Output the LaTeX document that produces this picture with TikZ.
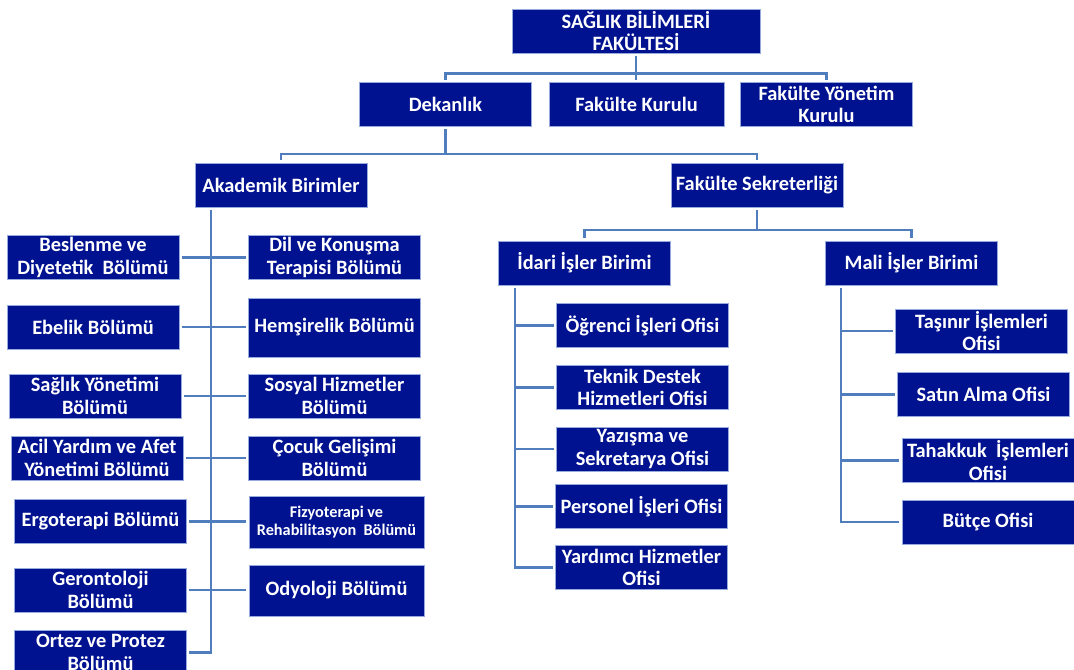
\documentclass[tikz,border=0pt]{standalone}
\usepackage{fontspec}
\setmainfont{Carlito}
\usepackage{tikz}
\definecolor{kutumavi}{RGB}{0,18,143}
\definecolor{kenar}{RGB}{150,170,220}
\definecolor{hatmavi}{RGB}{79,125,190}
\tikzset{
	kutu/.style={draw=kenar,line width=0.5pt,fill=kutumavi,text=white,align=center,inner sep=0pt,outer sep=2.2pt,minimum width=129pt,minimum height=33pt,font=\bfseries\fontsize{15.3}{17}\selectfont},
	kucukyazi/.style={font=\bfseries\fontsize{12.2}{13.5}\selectfont},
	cizgi/.style={draw=hatmavi,line width=1.6pt}
}

\begin{document}
\begin{tikzpicture}[x=0.75pt,y=-0.75pt]
	\useasboundingbox[fill=white] (0,0) rectangle (1074,670);

	\node[kutu,minimum width=186pt] (fak) at (636,31){SAĞLIK BİLİMLERİ\\FAKÜLTESİ};
	\node[kutu] (dek) at (445.5,104.5){Dekanlık};
	\node[kutu,minimum width=131pt] (fk) at (636.5,104.5){Fakülte Kurulu};
	\node[kutu] (fyk) at (826.5,104.5){Fakülte Yönetim\\Kurulu};
	\node[kutu] (akd) at (281,185){Akademik Birimler};
	\node[kutu] (sek) at (757,185){Fakülte Sekreterliği};

	\node[kutu] (bes) at (93,257.5){Beslenme ve\\Diyetetik~ Bölümü};
	\node[kutu] (ebe) at (93,327){Ebelik Bölümü};
	\node[kutu] (syo) at (95,396){Sağlık Yönetimi\\Bölümü};
	\node[kutu] (acil) at (97,458){Acil Yardım ve Afet\\Yönetimi Bölümü};
	\node[kutu] (ergo) at (100.5,521.5){Ergoterapi Bölümü};
	\node[kutu] (ger) at (100.5,590){Gerontoloji\\Bölümü};
	\node[kutu] (ort) at (100.5,652.5){Ortez ve Protez\\Bölümü};

	\node[kutu] (dil) at (334.5,257.5){Dil ve Konuşma\\Terapisi Bölümü};
	\node[kutu,minimum height=44pt] (hem) at (334.5,327.5){Hemşirelik Bölümü};
	\node[kutu] (sos) at (334.5,396){Sosyal Hizmetler\\Bölümü};
	\node[kutu] (coc) at (334.5,458){Çocuk Gelişimi\\Bölümü};
	\node[kutu,kucukyazi,minimum width=131pt,minimum height=39pt] (fiz) at (336.5,522){Fizyoterapi ve\\Rehabilitasyon~ Bölümü};
	\node[kutu,minimum width=131pt,minimum height=38pt] (ody) at (336.5,590.5){Odyoloji Bölümü};

	\node[kutu] (ida) at (584.5,263){İdari İşler Birimi};
	\node[kutu] (mal) at (911.5,263){Mali İşler Birimi};

	\node[kutu] (ogr) at (642.5,325.5){Öğrenci İşleri Ofisi};
	\node[kutu] (tek) at (642.5,387.5){Teknik Destek\\Hizmetleri Ofisi};
	\node[kutu] (yaz) at (642.5,449){Yazışma ve\\Sekretarya Ofisi};
	\node[kutu] (per) at (641.5,506.5){Personel İşleri Ofisi};
	\node[kutu] (yar) at (641.5,567.5){Yardımcı Hizmetler\\Ofisi};

	\node[kutu] (tas) at (981.5,331){Taşınır İşlemleri\\Ofisi};
	\node[kutu] (sat) at (983.5,394.5){Satın Alma Ofisi};
	\node[kutu] (tah) at (988,460.5){Tahakkuk~ İşlemleri\\Ofisi};
	\node[kutu] (but) at (988,522){Bütçe Ofisi};

	\draw[cizgi] (fak.south) -- (fak.south |- fk.north);
	\draw[cizgi] (dek.north) -- ++(0,-6) -| (fyk.north);
	\draw[cizgi] (akd.north) -- ++(0,-6) coordinate (akbar) -| (sek.north);
	\draw[cizgi] (dek.south) -- (dek.south |- akbar);
	\draw[cizgi] (ida.north) -- ++(0,-8) coordinate (sebar) -| (mal.north);
	\draw[cizgi] (sek.south) -- (sek.south |- sebar);

	\draw[cizgi] (akd.south west) ++(19,0) coordinate (akgov) |- (ort.east);
	\foreach \a/\b in {bes/dil,ebe/hem,syo/sos,acil/coc,ergo/fiz,ger/ody}
		\draw[cizgi] (\a.east) -- (\a.east -| \b.west);

	\draw[cizgi] (ida.south west) ++(19,0) coordinate (idgov) |- (yar.west);
	\foreach \k in {ogr,tek,yaz,per}
		\draw[cizgi] (idgov |- \k.west) -- (\k.west);

	\draw[cizgi] (mal.south west) ++(18,0) coordinate (mlgov) |- (but.west);
	\foreach \k in {tas,sat,tah}
		\draw[cizgi] (mlgov |- \k.west) -- (\k.west);
\end{tikzpicture}
\end{document}
